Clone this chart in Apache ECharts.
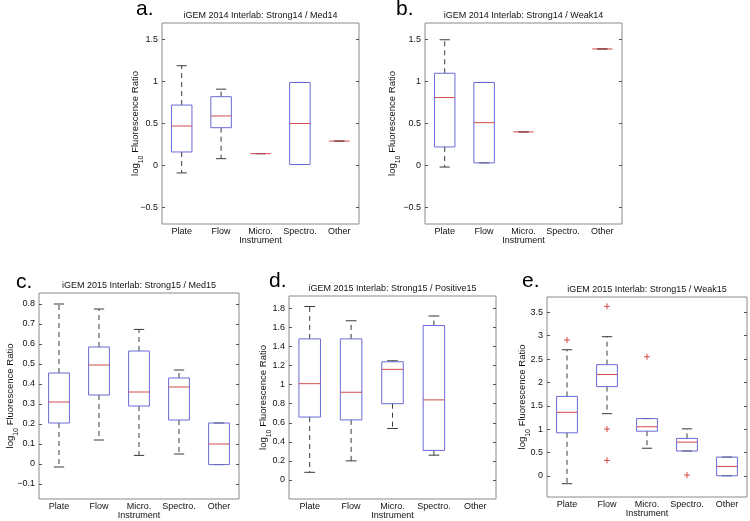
<!DOCTYPE html>
<html>
<head>
<meta charset="utf-8">
<script src="https://cdn.jsdelivr.net/npm/echarts@6/dist/echarts.min.js"></script>
<style>
  html, body { margin: 0; padding: 0; background: #fff; }
  #chart { width: 750px; height: 521px; }
</style>
</head>
<body>
<div id="chart"></div>
<script>
// ---- data ----
const categories = ['Plate', 'Flow', 'Micro.', 'Spectro.', 'Other'];
// each box: [lower whisker, Q1, median, Q3, upper whisker]; null = no data
const boxA = [[-0.09, 0.16, 0.47, 0.72, 1.19], [0.08, 0.45, 0.59, 0.82, 0.91], [0.14, 0.14, 0.14, 0.14, 0.14], [0.01, 0.01, 0.50, 0.99, 0.99], [0.29, 0.29, 0.29, 0.29, 0.29]];
const boxB = [[-0.02, 0.22, 0.81, 1.10, 1.50], [0.03, 0.03, 0.51, 0.99, 0.99], [0.40, 0.40, 0.40, 0.40, 0.40], null, [1.39, 1.39, 1.39, 1.39, 1.39]];
const boxC = [[-0.015, 0.205, 0.31, 0.455, 0.80], [0.12, 0.345, 0.495, 0.585, 0.775], [0.043, 0.29, 0.36, 0.565, 0.673], [0.05, 0.22, 0.385, 0.43, 0.47], [-0.003, -0.003, 0.10, 0.205, 0.205]];
const boxD = [[0.08, 0.66, 1.01, 1.48, 1.82], [0.20, 0.63, 0.92, 1.48, 1.67], [0.54, 0.80, 1.16, 1.24, 1.25], [0.26, 0.31, 0.84, 1.62, 1.72], null];
const boxE = [[-0.17, 0.92, 1.36, 1.70, 2.70], [1.33, 1.91, 2.17, 2.38, 2.98], [0.59, 0.955, 1.05, 1.225, 1.225], [0.53, 0.53, 0.72, 0.80, 1.005], [0.0, 0.0, 0.20, 0.40, 0.40]];
// outliers: [category index, value]
const outE = [[0, 2.91], [1, 3.63], [1, 1.00], [1, 0.33], [2, 2.55], [3, 0.015]];

// tick values
const ticksAB = [-0.5, 0, 0.5, 1, 1.5];
const ticksC = [-0.1, 0, 0.1, 0.2, 0.3, 0.4, 0.5, 0.6, 0.7, 0.8];
const ticksD = [0, 0.2, 0.4, 0.6, 0.8, 1, 1.2, 1.4, 1.6, 1.8];
const ticksE = [0, 0.5, 1, 1.5, 2, 2.5, 3, 3.5];

const panelTitles = [
  'iGEM 2014 Interlab: Strong14 / Med14',
  'iGEM 2014 Interlab: Strong14 / Weak14',
  'iGEM 2015 Interlab: Strong15 / Med15',
  'iGEM 2015 Interlab: Strong15 / Positive15',
  'iGEM 2015 Interlab: Strong15 / Weak15'
];
const panelLetters = ['a.', 'b.', 'c.', 'd.', 'e.'];
const xName = 'Instrument';
const yName = 'log{sub|10} Fluorescence Ratio';

// ---- layout / style ----
const FONT = '"Liberation Sans", Arial, sans-serif';
const panels = [
  { box: boxA, out: [], ticks: ticksAB, min: -0.7, max: 1.7, rect: [162, 23, 197, 201], gap: 22, letter: [136, 20] },
  { box: boxB, out: [], ticks: ticksAB, min: -0.7, max: 1.7, rect: [425, 23, 197, 201], gap: 28, letter: [396, 20] },
  { box: boxC, out: [], ticks: ticksC, min: -0.175, max: 0.855, rect: [39, 293, 200, 206], gap: 24, letter: [16, 293] },
  { box: boxD, out: [], ticks: ticksD, min: -0.2, max: 1.93, rect: [289, 296, 207, 203], gap: 21, letter: [269, 292] },
  { box: boxE, out: outE, ticks: ticksE, min: -0.455, max: 3.83, rect: [547, 297, 200, 200], gap: 20, letter: [522, 292] }
];

const BOX_COLOR = '#6a6ad8';
const MED_COLOR = '#d24c4c';
const WHISK_COLOR = '#3a3a3a';
const FRAME_COLOR = '#8a8a8a';

function fmt(v) {
  return String(+(+v).toFixed(2)).replace('-', '\u2212');
}

function renderBox(params, api) {
  const x = api.value(0);
  const lo = api.value(1), q1 = api.value(2), md = api.value(3), q3 = api.value(4), hi = api.value(5);
  const band = api.size([1, 0])[0];
  const bw = band * 0.52;
  const cw = bw * 0.5;
  const pLo = api.coord([x, lo]), pQ1 = api.coord([x, q1]), pMd = api.coord([x, md]),
        pQ3 = api.coord([x, q3]), pHi = api.coord([x, hi]);
  const cx = pMd[0];
  const ch = [];
  const dash = { stroke: WHISK_COLOR, lineWidth: 1, lineDash: [5, 4], fill: null };
  const solid = { stroke: WHISK_COLOR, lineWidth: 1, fill: null };
  if (hi > q3) ch.push({ type: 'line', shape: { x1: cx, y1: pQ3[1], x2: cx, y2: pHi[1] }, style: dash });
  if (lo < q1) ch.push({ type: 'line', shape: { x1: cx, y1: pQ1[1], x2: cx, y2: pLo[1] }, style: dash });
  ch.push({ type: 'line', shape: { x1: cx - cw / 2, y1: pHi[1], x2: cx + cw / 2, y2: pHi[1] }, style: solid });
  ch.push({ type: 'line', shape: { x1: cx - cw / 2, y1: pLo[1], x2: cx + cw / 2, y2: pLo[1] }, style: solid });
  if (q3 > q1) {
    ch.push({ type: 'rect', shape: { x: cx - bw / 2, y: pQ3[1], width: bw, height: pQ1[1] - pQ3[1] },
      style: { fill: null, stroke: BOX_COLOR, lineWidth: 1 } });
  }
  ch.push({ type: 'line', shape: { x1: cx - bw / 2, y1: pMd[1], x2: cx + bw / 2, y2: pMd[1] },
    style: { stroke: MED_COLOR, lineWidth: 1, fill: null } });
  return { type: 'group', children: ch };
}

function renderOut(params, api) {
  const p = api.coord([api.value(0), api.value(1)]);
  const s = 3;
  const st = { stroke: MED_COLOR, lineWidth: 1, fill: null };
  return { type: 'group', children: [
    { type: 'line', shape: { x1: p[0] - s, y1: p[1], x2: p[0] + s, y2: p[1] }, style: st },
    { type: 'line', shape: { x1: p[0], y1: p[1] - s, x2: p[0], y2: p[1] + s }, style: st }
  ] };
}

const grid = [], xAxis = [], yAxis = [], series = [], title = [], graphic = [];
panels.forEach((p, i) => {
  const [l, t, w, h] = p.rect;
  grid.push({ left: l, top: t, width: w, height: h, show: true, borderColor: FRAME_COLOR, borderWidth: 1,
    backgroundColor: '#fff', outerBoundsMode: 'none', containLabel: false });
  xAxis.push({
    type: 'category', gridIndex: i, data: categories, boundaryGap: true,
    axisLine: { show: false }, axisTick: { show: false }, splitLine: { show: false },
    axisLabel: { fontSize: 9, fontFamily: FONT, color: '#111', margin: 3, interval: 0 },
    name: xName, nameLocation: 'middle', nameGap: 12, nameMoveOverlap: false,
    nameTextStyle: { fontSize: 9, fontFamily: FONT, color: '#111' }
  });
  const yBase = {
    type: 'value', gridIndex: i, min: p.min, max: p.max,
    splitLine: { show: false }, axisLine: { show: false }
  };
  yAxis.push(Object.assign({}, yBase, {
    position: 'left',
    axisTick: { show: true, inside: true, length: 3, customValues: p.ticks, lineStyle: { color: '#555' } },
    axisLabel: { show: true, customValues: p.ticks, formatter: fmt, fontSize: 9, fontFamily: FONT, color: '#111', margin: 4 },
    name: yName, nameLocation: 'middle', nameGap: p.gap, nameMoveOverlap: false,
    nameTextStyle: { fontSize: 9.5, fontFamily: FONT, color: '#111',
      rich: { sub: { fontSize: 7, fontFamily: FONT, color: '#111', verticalAlign: 'bottom', padding: [0, 0, -5, 0] } } }
  }));
  yAxis.push(Object.assign({}, yBase, {
    position: 'right',
    axisTick: { show: true, inside: true, length: 3, customValues: p.ticks, lineStyle: { color: '#555' } },
    axisLabel: { show: false }
  }));
  series.push({
    type: 'custom', xAxisIndex: i, yAxisIndex: i * 2, renderItem: renderBox,
    encode: { x: 0, y: [1, 2, 3, 4, 5] },
    data: p.box.map((b, k) => b ? [k].concat(b) : null).filter(Boolean), silent: true
  });
  if (p.out.length) {
    series.push({
      type: 'custom', xAxisIndex: i, yAxisIndex: i * 2, renderItem: renderOut,
      encode: { x: 0, y: 1 }, data: p.out, silent: true
    });
  }
  title.push({ text: panelTitles[i], left: l + w / 2, top: t - 12, textAlign: 'center',
    textStyle: { fontSize: 9, fontWeight: 'normal', fontFamily: FONT, color: '#111' }, padding: 0 });
  graphic.push({ type: 'text', x: p.letter[0], y: p.letter[1],
    style: { text: panelLetters[i], font: '21px ' + FONT, fill: '#000', verticalAlign: 'bottom' } });
});

const chart = echarts.init(document.getElementById('chart'), null, { renderer: 'canvas' });
chart.setOption({
  animation: false,
  backgroundColor: '#fff',
  title, grid, xAxis, yAxis, series, graphic
});
</script>
</body>
</html>
